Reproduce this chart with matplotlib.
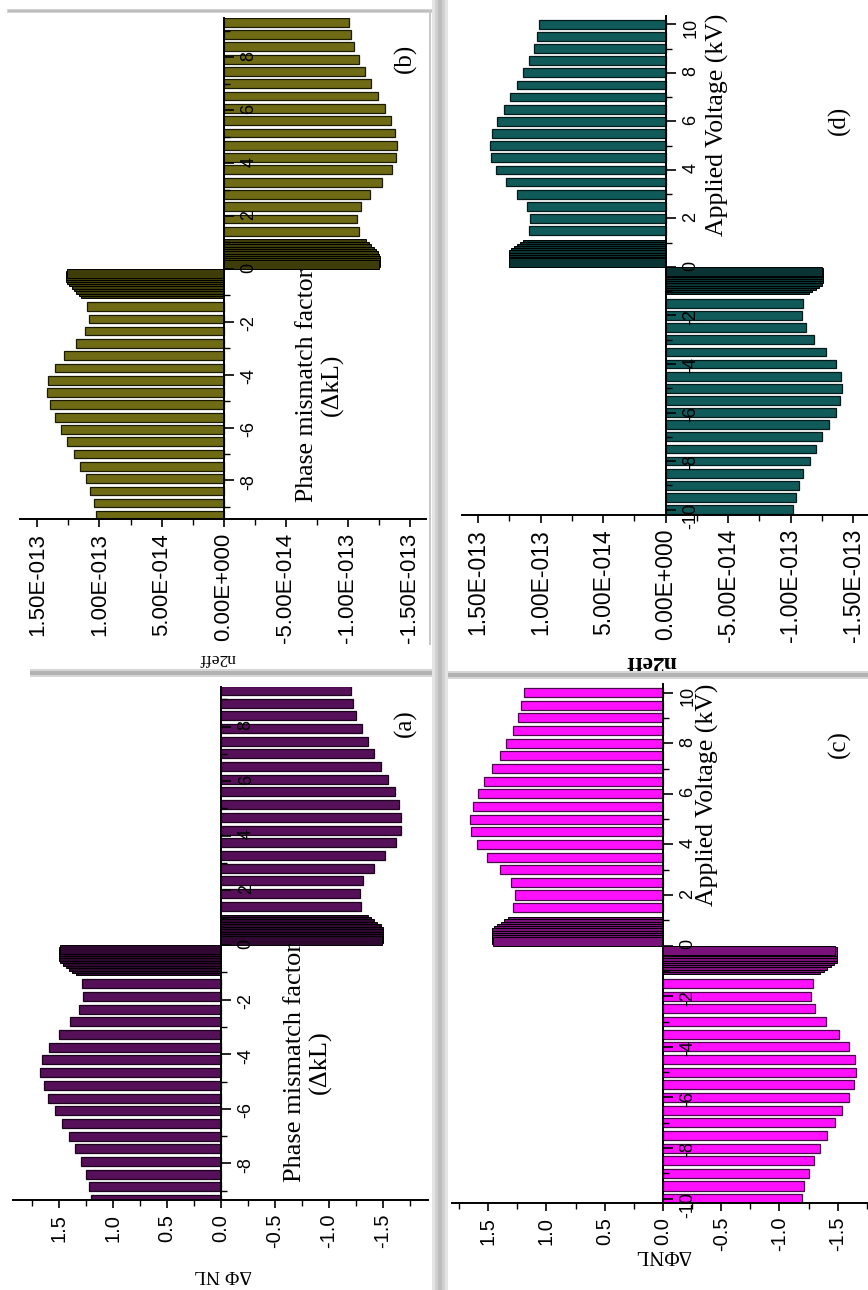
import matplotlib
matplotlib.use("Agg")
import matplotlib.pyplot as plt
import matplotlib.ticker as mticker
from matplotlib.patches import Rectangle

W, H = 868, 1290
plt.rcParams['font.family'] = ['Liberation Sans', 'DejaVu Sans']
plt.rcParams['axes.unicode_minus'] = False

# category positions (phase mismatch factor and applied voltage)
kl_pos = [9.33, 8.86, 8.40, 7.93, 7.47, 7.00, 6.54, 6.07, 5.61, 5.14, 4.68, 4.21, 3.75, 3.28, 2.82, 2.35, 1.89, 1.42]
kl_neg = [-1.42, -1.89, -2.35, -2.82, -3.28, -3.75, -4.21, -4.68, -5.14, -5.61, -6.07, -6.54, -7.00, -7.47, -7.93, -8.40, -8.86, -9.33]
kl_block = [0.95, 0.86, 0.77, 0.68, 0.59, 0.50, 0.41, 0.32, 0.24, 0.17]

volt_pos = [10, 9.5, 9, 8.5, 8, 7.5, 7, 6.5, 6, 5.5, 5, 4.5, 4, 3.5, 3, 2.5, 2, 1.5]
volt_neg = [-1.5, -2, -2.5, -3, -3.5, -4, -4.5, -5, -5.5, -6, -6.5, -7, -7.5, -8, -8.5, -9, -9.5, -10]
volt_block = [0.95, 0.86, 0.77, 0.68, 0.59, 0.50, 0.41, 0.32, 0.24, 0.18]

# (a) delta phi NL vs dkL
dphi_kl_pos = [-1.21, -1.225, -1.256, -1.31, -1.364, -1.42, -1.48, -1.55, -1.61, -1.65, -1.67, -1.667, -1.62, -1.52, -1.417, -1.32, -1.29, -1.30]
dphi_kl_neg = [1.29, 1.28, 1.32, 1.40, 1.50, 1.60, 1.66, 1.676, 1.645, 1.605, 1.543, 1.475, 1.413, 1.352, 1.30, 1.256, 1.222, 1.207]
dphi_kl_blk_pos = [-1.36, -1.39, -1.42, -1.45, -1.48, -1.50, -1.50, -1.50, -1.50, -1.49]
dphi_kl_blk_neg = [1.35, 1.38, 1.41, 1.44, 1.47, 1.49, 1.50, 1.50, 1.50, 1.49]

# (b) n2eff vs dkL
n2_kl_pos = [-1.009e-13, -1.023e-13, -1.049e-13, -1.090e-13, -1.141e-13, -1.189e-13, -1.243e-13, -1.296e-13, -1.345e-13,
             -1.382e-13, -1.398e-13, -1.390e-13, -1.353e-13, -1.277e-13, -1.181e-13, -1.108e-13, -1.073e-13, -1.090e-13]
n2_kl_neg = [1.100e-13, 1.084e-13, 1.119e-13, 1.190e-13, 1.286e-13, 1.360e-13, 1.414e-13, 1.423e-13, 1.395e-13,
             1.360e-13, 1.312e-13, 1.258e-13, 1.208e-13, 1.154e-13, 1.111e-13, 1.073e-13, 1.047e-13, 1.025e-13]
n2_kl_blk_pos = [-1.15e-13, -1.17e-13, -1.19e-13, -1.21e-13, -1.23e-13, -1.245e-13, -1.255e-13, -1.256e-13, -1.256e-13, -1.25e-13]
n2_kl_blk_neg = [1.146e-13, 1.165e-13, 1.185e-13, 1.205e-13, 1.225e-13, 1.245e-13, 1.26e-13, 1.266e-13, 1.266e-13, 1.26e-13]

# (c) delta phi NL vs applied voltage
dphi_v_pos = [1.19, 1.214, 1.243, 1.29, 1.343, 1.40, 1.47, 1.534, 1.585, 1.628, 1.654, 1.648, 1.596, 1.506, 1.397, 1.305, 1.268, 1.283]
dphi_v_neg = [-1.288, -1.27, -1.308, -1.40, -1.508, -1.597, -1.65, -1.66, -1.637, -1.594, -1.536, -1.474, -1.408, -1.351, -1.294, -1.251, -1.214, -1.194]
dphi_v_blk_pos = [1.33, 1.36, 1.39, 1.42, 1.45, 1.47, 1.47, 1.47, 1.47, 1.46]
dphi_v_blk_neg = [-1.35, -1.38, -1.41, -1.44, -1.47, -1.49, -1.49, -1.49, -1.49, -1.48]

# (d) n2eff vs applied voltage
n2_v_pos = [1.015e-13, 1.029e-13, 1.055e-13, 1.095e-13, 1.141e-13, 1.189e-13, 1.242e-13, 1.296e-13, 1.349e-13,
            1.389e-13, 1.402e-13, 1.397e-13, 1.354e-13, 1.277e-13, 1.189e-13, 1.109e-13, 1.082e-13, 1.090e-13]
n2_v_neg = [-1.103e-13, -1.090e-13, -1.122e-13, -1.188e-13, -1.280e-13, -1.362e-13, -1.402e-13, -1.415e-13, -1.397e-13,
            -1.362e-13, -1.309e-13, -1.255e-13, -1.202e-13, -1.154e-13, -1.103e-13, -1.068e-13, -1.042e-13, -1.023e-13]
n2_v_blk_pos = [1.14e-13, 1.165e-13, 1.19e-13, 1.215e-13, 1.24e-13, 1.256e-13, 1.256e-13, 1.256e-13, 1.256e-13, 1.25e-13]
n2_v_blk_neg = [-1.15e-13, -1.175e-13, -1.2e-13, -1.225e-13, -1.25e-13, -1.263e-13, -1.263e-13, -1.263e-13, -1.263e-13, -1.255e-13]

small_ticks = [1.5, 1.0, 0.5, 0.0, -0.5, -1.0, -1.5]
small_labels = ["1.5", "1.0", "0.5", "0.0", "-0.5", "-1.0", "-1.5"]
sci_ticks = [1.5e-13, 1.0e-13, 5e-14, 0.0, -5e-14, -1.0e-13, -1.5e-13]
sci_labels = ["1.50E-013", "1.00E-013", "5.00E-014", "0.00E+000", "-5.00E-014", "-1.00E-013", "-1.50E-013"]

fig = plt.figure(figsize=(W / 100, H / 100), dpi=100)


def px_axes(left, top, right, bottom):
    return fig.add_axes([left / W, 1 - bottom / H, (right - left) / W, (bottom - top) / H])


def ftext(x, y, s, **kw):
    fig.text(x / W, 1 - y / H, s, ha="center", va="center", **kw)


def panel(box, cats, vals, blk_cats, blk_vals, color, blk_color, edge, bar_h,
          xlim, ylim, vticks, vlabels, vminor, lsize):
    ax = px_axes(*box)
    ax.set_axisbelow(False)
    ax.barh(blk_cats, blk_vals, height=bar_h, color=blk_color, edgecolor="black", linewidth=0.7, zorder=1)
    ax.barh(cats, vals, height=bar_h, color=color, edgecolor=edge, linewidth=0.9, zorder=1)
    ax.set_xlim(*xlim)
    ax.set_ylim(*ylim)
    for s in ["top", "left"]:
        ax.spines[s].set_visible(False)
    ax.spines["right"].set_position(("data", 0))
    ax.spines["right"].set_linewidth(1.4)
    ax.spines["right"].set_zorder(3)
    ax.spines["bottom"].set_linewidth(1.4)
    ax.yaxis.tick_right()
    ax.set_xticks(vticks)
    ax.set_xticklabels(vlabels)
    ax.xaxis.set_minor_locator(mticker.MultipleLocator(vminor))
    ax.yaxis.set_major_locator(mticker.MultipleLocator(2))
    ax.yaxis.set_minor_locator(mticker.MultipleLocator(1))
    ax.tick_params(axis="x", which="major", direction="out", length=6, width=1.2,
                   labelrotation=90, labelsize=lsize, pad=4)
    ax.tick_params(axis="x", which="minor", direction="out", length=4, width=1.0)
    ax.tick_params(axis="y", which="major", direction="out", length=7, width=1.2,
                   labelrotation=90, labelsize=13, pad=5)
    ax.tick_params(axis="y", which="minor", direction="out", length=4, width=1.0)
    ax.patch.set_alpha(0)
    return ax


# (b) top-left
panel((20, 18, 426, 519), kl_pos + kl_neg, n2_kl_pos + n2_kl_neg,
      kl_block + [-c for c in kl_block], n2_kl_blk_pos + n2_kl_blk_neg,
      "#6e6b14", "#3e3c08", "#1a1a00", 0.33,
      (1.64e-13, -1.63e-13), (-9.46, 9.49), sci_ticks, sci_labels, 2.5e-14, 16)

# (d) top-right
panel((462, 16, 868, 515), volt_pos + volt_neg, n2_v_pos + n2_v_neg,
      volt_block + [-c for c in volt_block], n2_v_blk_pos + n2_v_blk_neg,
      "#115a5a", "#0a3434", "#001a1a", 0.36,
      (1.63e-13, -1.62e-13), (-10.22, 10.34), sci_ticks, sci_labels, 2.5e-14, 16.5)

# (a) bottom-left
panel((13, 687, 428, 1200), kl_pos + kl_neg, dphi_kl_pos + dphi_kl_neg,
      kl_block + [-c for c in kl_block], dphi_kl_blk_pos + dphi_kl_blk_neg,
      "#56105a", "#300832", "#1a001a", 0.33,
      (1.93, -1.92), (-9.34, 9.45), small_ticks, small_labels, 0.25, 14.5)

# (c) bottom-right
panel((452, 684, 868, 1203), volt_pos + volt_neg, dphi_v_pos + dphi_v_neg,
      volt_block + [-c for c in volt_block], dphi_v_blk_pos + dphi_v_blk_neg,
      "#ff10ff", "#7a107a", "#4a0a4a", 0.36,
      (1.81, -1.76), (-10.17, 10.34), small_ticks, small_labels, 0.25, 14.5)

serif = "Liberation Serif"
# axis titles
ftext(320, 385, "Phase mismatch factor\n(\u0394kL)", rotation=90, family=serif, fontsize=18.5, linespacing=1.15)
ftext(308, 1062, "Phase mismatch factor\n(\u0394kL)", rotation=90, family=serif, fontsize=19, linespacing=1.15)
ftext(717, 125, "Applied Voltage (kV)", rotation=90, family=serif, fontsize=18.5)
ftext(707, 795, "Applied Voltage (kV)", rotation=90, family=serif, fontsize=18.5)

# panel tags
ftext(405, 58, "(b)", rotation=90, family=serif, fontsize=18)
ftext(839, 120, "(d)", rotation=90, family=serif, fontsize=18)
ftext(405, 723, "(a)", rotation=90, family=serif, fontsize=18)
ftext(839, 744, "(c)", rotation=90, family=serif, fontsize=18)

# value axis titles (upside down)
ftext(217, 658, "n2eff", rotation=180, family=serif, fontsize=12.5)
ftext(651, 661, "n2eff", rotation=180, family=serif, fontsize=17, fontweight="bold")
ftext(223, 1275, "\u0394\u03a6 NL", rotation=180, family=serif, fontsize=14)
ftext(663, 1255, "\u0394\u03a6NL", rotation=180, family=serif, fontsize=15)


# gray frame borders between the pasted panels
def frame_rect(x0, y0, x1, y1, color):
    fig.add_artist(Rectangle((x0 / W, 1 - y1 / H), (x1 - x0) / W, (y1 - y0) / H,
                             transform=fig.transFigure, color=color, lw=0, zorder=5))


frame_rect(7, 9, 432, 13, "#d4d4d4")
frame_rect(8, 10, 432, 12, "#bdbdbd")
frame_rect(429, 10, 431, 645, "#c8c8c8")
frame_rect(30, 669, 432, 677, "#d6d6d6")
frame_rect(30, 671, 432, 675, "#b2b2b2")
frame_rect(447, 671, 868, 679, "#d6d6d6")
frame_rect(447, 673, 868, 677, "#b2b2b2")
frame_rect(432, 0, 448, 1290, "#e4e4e4")
frame_rect(435, 0, 445, 1290, "#cfcfcf")
frame_rect(438, 0, 442, 1290, "#bcbcbc")

fig.savefig("out.png", dpi=100)
